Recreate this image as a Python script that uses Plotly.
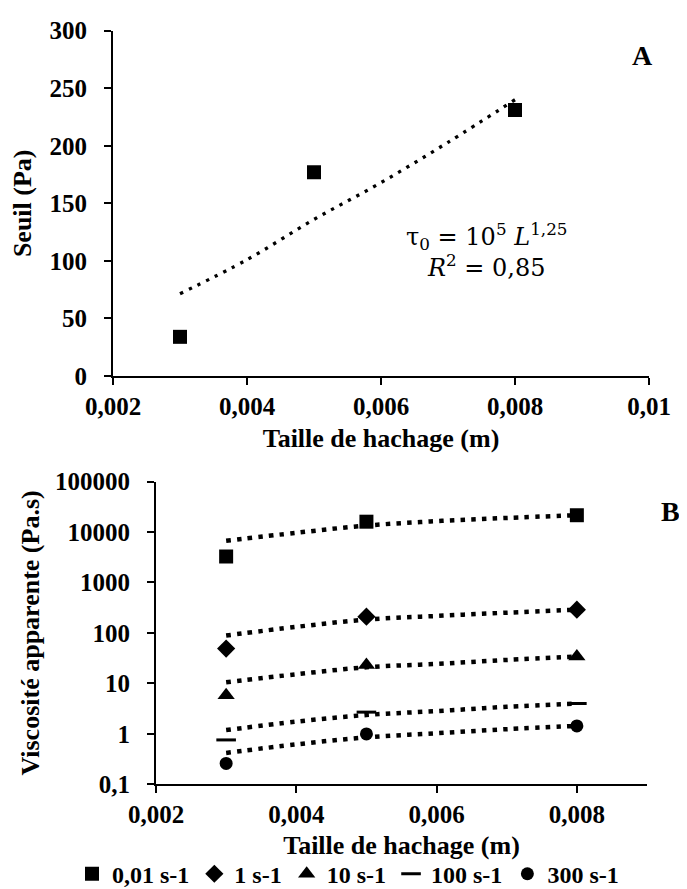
import plotly.graph_objects as go

# ---------------- data ----------------
taille = [0.003, 0.005, 0.008]
seuil = [34, 177, 231]

trend_x = [0.003, 0.004, 0.005, 0.006, 0.007, 0.008]
seuil_trend = [71.5, 101, 136, 168, 203, 240]

visc_001 = [3270, 16000, 21500]
visc_1 = [49, 210, 289]
visc_10 = [5.8, 23.2, 34]
visc_100 = [0.76, 2.7, 4.0]
visc_300 = [0.26, 1.0, 1.44]

trend_001 = [6720, 9640, 13400, 16400, 19000, 21500]
trend_1 = [89, 132, 184, 217, 252, 289]
trend_10 = [10.5, 15.2, 20.9, 24.4, 29.2, 34]
trend_100 = [1.19, 1.75, 2.37, 2.83, 3.44, 4.0]
trend_300 = [0.42, 0.62, 0.855, 1.03, 1.24, 1.44]

series_names = ["0,01 s-1", "1 s-1", "10 s-1", "100 s-1", "300 s-1"]

top_xticks = [0.002, 0.004, 0.006, 0.008, 0.01]
top_xticktext = ["0,002", "0,004", "0,006", "0,008", "0,01"]
top_yticks = [0, 50, 100, 150, 200, 250, 300]

bot_xticks = [0.002, 0.004, 0.006, 0.008]
bot_xticktext = ["0,002", "0,004", "0,006", "0,008"]
bot_yticks = [0.1, 1, 10, 100, 1000, 10000, 100000]
bot_yticktext = ["0,1", "1", "10", "100", "1000", "10000", "100000"]

# ---------------- figure ----------------
W, H = 687, 889
FONT = "Liberation Serif, Times New Roman, serif"
tickfont = dict(family=FONT, size=25, color="black", weight="bold")
titlefont = dict(family=FONT, size=26, color="black", weight="bold")

fig = go.Figure()

# Panel A
fig.add_trace(go.Scatter(x=trend_x, y=seuil_trend, mode="lines", xaxis="x", yaxis="y",
                         line=dict(color="black", width=3.3, dash="3.3px,6.3px", shape="spline"),
                         showlegend=False, hoverinfo="skip"))
fig.add_trace(go.Scatter(x=taille, y=seuil, mode="markers", xaxis="x", yaxis="y",
                         marker=dict(symbol="square", size=14, color="black"),
                         showlegend=False))

# Panel B
trends = [trend_001, trend_1, trend_10, trend_100, trend_300]
values = [visc_001, visc_1, visc_10, visc_100, visc_300]
symbols = ["square", "diamond", "triangle-up", "line-ew", "circle"]
sizes = [14, 14, 15, 14, 13]

for tr in trends:
    fig.add_trace(go.Scatter(x=trend_x, y=tr, mode="lines", xaxis="x2", yaxis="y2",
                             line=dict(color="black", width=4.5, dash="4.5px,6.2px", shape="spline"),
                             showlegend=False, hoverinfo="skip"))
for name, vals, sym, sz in zip(series_names, values, symbols, sizes):
    mk = dict(symbol=sym, size=sz, color="black")
    if sym == "line-ew":
        mk["line"] = dict(color="black", width=3)
    fig.add_trace(go.Scatter(x=taille, y=vals, mode="markers", name=name, xaxis="x2", yaxis="y2",
                             marker=mk))

axis_common = dict(showline=True, linecolor="black", linewidth=2, ticks="outside",
                   ticklen=7, tickwidth=2, tickcolor="black", showgrid=False,
                   zeroline=False, tickfont=tickfont, automargin=False)

fig.update_layout(
    width=W, height=H,
    margin=dict(l=0, r=0, t=0, b=0),
    paper_bgcolor="white", plot_bgcolor="white",
    font=dict(family=FONT, color="black"),
    xaxis=dict(domain=[105 / W, 641 / W], anchor="y", range=[0.002, 0.01],
               tickvals=top_xticks, ticktext=top_xticktext,
               title=dict(text="Taille de hachage (m)", font=titlefont, standoff=10),
               **axis_common),
    yaxis=dict(domain=[1 - 373 / H, 1 - 23 / H], anchor="x", range=[0, 300],
               tickvals=top_yticks, ticklabelstandoff=12,
               title=dict(text="Seuil (Pa)", font=titlefont, standoff=12),
               **axis_common),
    xaxis2=dict(domain=[148 / W, 639 / W], anchor="y2", range=[0.002, 0.009],
                tickvals=bot_xticks, ticktext=bot_xticktext,
                title=dict(text="Taille de hachage (m)", font=titlefont, standoff=8),
                **axis_common),
    yaxis2=dict(domain=[1 - 787 / H, 1 - 480 / H], anchor="x2", type="log", range=[-1, 5],
                tickvals=bot_yticks, ticktext=bot_yticktext, ticklabelstandoff=12,
                title=dict(text="Viscosité apparente (Pa.s)", font=titlefont, standoff=8),
                **axis_common),
    legend=dict(orientation="h", x=340 / W, xanchor="center", y=1 - 878 / H, yanchor="middle",
                font=dict(family=FONT, size=24, color="black", weight="bold"),
                itemwidth=30, bgcolor="rgba(0,0,0,0)", tracegroupgap=0),
    showlegend=True,
)

fig.add_annotation(text="A", x=634 / W, y=1 - 48 / H, xref="paper", yref="paper",
                   xanchor="center", yanchor="middle",
                   showarrow=False, font=dict(family=FONT, size=28, color="black", weight="bold"))
fig.add_annotation(text="B", x=662 / W, y=1 - 510 / H, xref="paper", yref="paper",
                   xanchor="center", yanchor="middle",
                   showarrow=False, font=dict(family=FONT, size=28, color="black", weight="bold"))
fig.add_annotation(text="τ<sub>0</sub> = 10<sup>5</sup> <i>L</i><sup>1,25</sup><br><i>R</i><sup>2</sup> = 0,85",
                   x=479 / W, y=1 - 246 / H, xref="paper", yref="paper", showarrow=False,
                   xanchor="center", yanchor="middle",
                   align="center", font=dict(family="DejaVu Serif", size=24, color="black"))

fig.write_html("out.html")
